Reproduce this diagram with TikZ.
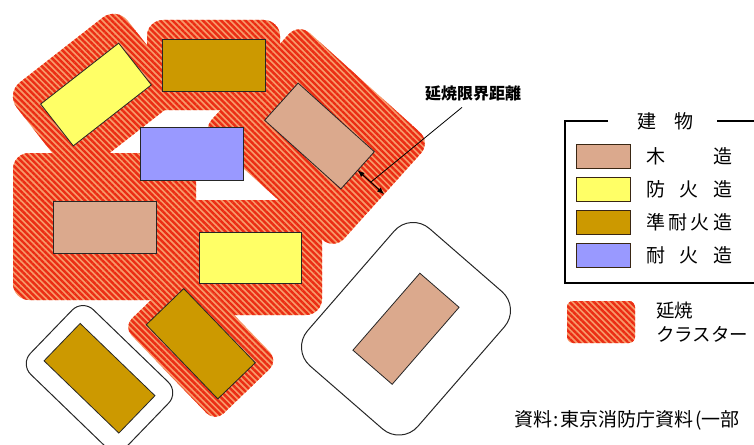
\documentclass[tikz,border=0pt]{standalone}
\usepackage{fontspec}
\newfontfamily\jfont{Noto Sans CJK JP}
\usetikzlibrary{patterns.meta,arrows.meta}
\definecolor{wood}{HTML}{DBA98D}
\definecolor{fireproof}{HTML}{FFFF66}
\definecolor{semifire}{HTML}{CC9900}
\definecolor{fireres}{HTML}{9999FF}
\definecolor{zonebg}{HTML}{F79A6A}
\definecolor{zonered}{HTML}{EB2D14}
\tikzset{
  zone/.style={preaction={fill=zonebg},
    pattern={Lines[angle=-45,distance=4.3pt,line width=2.4pt]},
    pattern color=zonered},
  bldg/.style={draw=black!85,line width=0.8pt},
  safe/.style={draw=black!85,fill=white,line width=1pt},
  lbl/.style={font=\jfont\fontsize{19pt}{22pt}\selectfont,inner sep=0pt}
}
\begin{document}
\begin{tikzpicture}[x=1pt,y=-1pt]
\useasboundingbox (0,0) rectangle (754,444);
\clip (0,0) rectangle (754,444);
% spread zones
\begin{scope}[shift={(96,94.5)},rotate=38]
  \fill[zone,rounded corners=18pt] (-70.5,-56.5) rectangle (70.5,54.5);
\end{scope}
\fill[zone,rounded corners=16pt] (147,20) rectangle (280,110);
\begin{scope}[shift={(319.5,136)},rotate=-42]
  \fill[zone,rounded corners=15pt] (-91,-70) rectangle (87,75);
\end{scope}
\fill[zone,rounded corners=16pt] (13,153) rectangle (196,300);
\fill[zone,rounded corners=16pt] (179,200) rectangle (322,315);
\begin{scope}[shift={(200.75,343.75)},rotate=-46]
  \fill[zone,rounded corners=12pt] (-66,-44) rectangle (66,44);
\end{scope}
% isolated buildings
\begin{scope}[shift={(99.5,378.25)},rotate=-44]
  \draw[safe,rounded corners=15pt] (-67,-45) rectangle (67,45);
  \draw[bldg,fill=semifire] (-52,-26) rectangle (52,26);
\end{scope}
\begin{scope}[shift={(406,328.75)},rotate=49]
  \draw[safe,rounded corners=25pt] (-91,-73) rectangle (91,73);
  \draw[bldg,fill=wood] (-51,-26) rectangle (51,26);
\end{scope}
% buildings in the cluster
\begin{scope}[shift={(96,94.5)},rotate=38]
  \draw[bldg,fill=fireproof] (-49.5,-26.5) rectangle (49.5,26.5);
\end{scope}
\draw[bldg,fill=semifire] (162,39) rectangle (265,91);
\begin{scope}[shift={(319.5,136)},rotate=-42]
  \draw[bldg,fill=wood] (-51.3,-25) rectangle (51.3,25);
  \coordinate (gapA) at (51.3,0);
  \coordinate (gapM) at (69,0);
  \coordinate (gapB) at (87,0);
\end{scope}
\draw[bldg,fill=fireres] (140,127) rectangle (243,180);
\draw[bldg,fill=wood] (53,201) rectangle (156,253);
\draw[bldg,fill=fireproof] (199,232) rectangle (301,283);
\begin{scope}[shift={(200.75,343.75)},rotate=-46]
  \draw[bldg,fill=semifire] (-51.5,-26) rectangle (51.5,26);
\end{scope}
% limit distance
\draw[line width=1pt,{Latex[length=7pt,width=5.5pt]}-{Latex[length=7pt,width=5.5pt]}] (gapA) -- (gapB);
\node[font=\jfont\bfseries\fontsize{16pt}{18pt}\selectfont,inner sep=0pt] (distlabel) at (473,93.5) {延焼限界距離};
\draw[line width=0.8pt] ([xshift=-11pt,yshift=-6pt]distlabel.south) -- (gapM);
% legend
\draw[line width=1.2pt] (608,121) -- (565,121) -- (565,283) -- (790,283);
\draw[line width=1.2pt] (717,121) -- (790,121);
\node[lbl] (legtitle) at (665,121) {\makebox[56pt][s]{建\hfill 物}};
\foreach \c/\t [count=\i] in {wood/{木\hfill 造},fireproof/{防\hfill 火\hfill 造},
    semifire/{準\hfill 耐\hfill 火\hfill 造},fireres/{耐\hfill 火\hfill 造}}{
  \draw[draw=black!70!brown,line width=1pt,fill=\c] (576,156+33*\i-45) rectangle (630,156+33*\i-21);
  \node[lbl,anchor=west] (leg\i) at (646,156+33*\i-33) {\makebox[86pt][s]{\t}};
}
\fill[zone,rounded corners=6pt] (567,301) rectangle (635,343);
\node[font=\jfont\fontsize{18.5pt}{24pt}\selectfont,align=left,anchor=north west,inner sep=0pt] (legzone) at (656,302) {延焼\\クラスター};
\node[font=\jfont\fontsize{19pt}{20pt}\selectfont,anchor=west,inner sep=0pt] (source) at (514,420) {資料\hspace{1.5pt}:\hspace{1.5pt}東京消防庁資料\hspace{2pt}(一部};
\end{tikzpicture}
\end{document}
